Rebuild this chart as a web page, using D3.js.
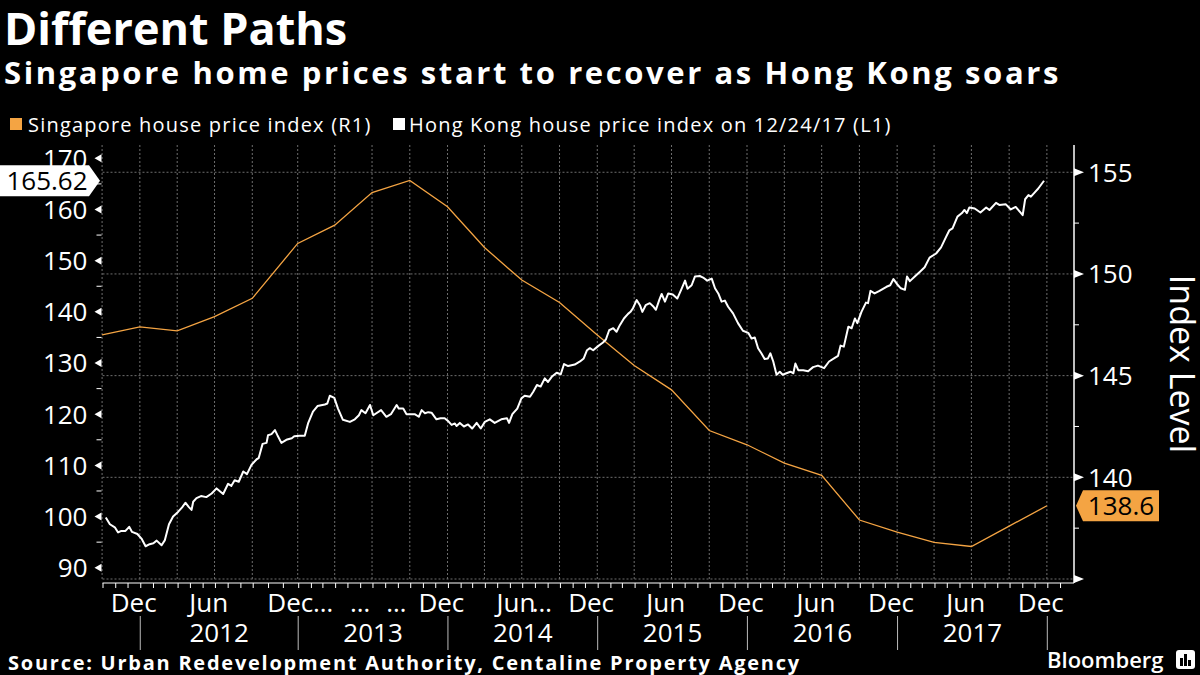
<!DOCTYPE html>
<html><head><meta charset="utf-8">
<script src="https://cdn.jsdelivr.net/npm/d3@7"></script>
<style>
body{margin:0;background:#000;}
svg{display:block;}
text{font-family:"Open Sans",sans-serif;}
</style>
</head><body>
<svg id="c" width="1200" height="675"></svg>
<script>
// ---------------- DATA ----------------
const sgDates = ["2011-09-30","2011-12-31","2012-03-31","2012-06-30","2012-09-30","2012-12-31",
  "2013-03-31","2013-06-30","2013-09-30","2013-12-31","2014-03-31","2014-06-30","2014-09-30","2014-12-31",
  "2015-03-31","2015-06-30","2015-09-30","2015-12-31","2016-03-31","2016-06-30","2016-09-30","2016-12-31",
  "2017-03-31","2017-06-30","2017-09-30","2017-12-31"];
const sgValues = [147.0,147.4,147.2,147.9,148.8,151.5,152.4,154.0,154.6,153.3,151.3,149.7,148.6,147.0,
  145.5,144.3,142.3,141.6,140.7,140.1,137.9,137.3,136.8,136.6,137.6,138.6];

const hkDates = ["2011-10-09","2011-10-19","2011-10-31","2011-11-08","2011-11-16","2011-11-26","2011-12-05","2011-12-12","2011-12-25",
"2012-01-04","2012-01-14","2012-01-24","2012-02-02","2012-02-10","2012-02-22","2012-03-01","2012-03-11","2012-03-21","2012-04-02",
"2012-04-12","2012-04-20","2012-04-28","2012-05-05","2012-05-09","2012-05-17","2012-05-28","2012-06-10","2012-06-23","2012-07-05",
"2012-07-21","2012-08-02","2012-08-10","2012-08-18","2012-08-28","2012-09-08","2012-09-17","2012-09-28","2012-10-09","2012-10-13",
"2012-10-21","2012-10-29","2012-11-01","2012-11-08","2012-11-15","2012-11-20","2012-11-28","2012-12-08","2012-12-19","2012-12-24",
"2013-01-05","2013-01-17","2013-01-25","2013-02-06","2013-02-17","2013-03-07","2013-03-13","2013-03-19","2013-03-30","2013-04-08",
"2013-04-20","2013-05-07","2013-05-19","2013-05-29","2013-06-04","2013-06-14","2013-06-25","2013-07-03","2013-07-22","2013-08-04",
"2013-08-15","2013-08-29","2013-09-03","2013-09-14","2013-09-22","2013-10-12","2013-10-22","2013-10-29","2013-11-06","2013-11-14",
"2013-11-22","2013-12-04","2013-12-14","2013-12-24","2014-01-01","2014-01-10","2014-01-18","2014-01-22","2014-01-30","2014-02-09",
"2014-02-19","2014-03-01","2014-03-12","2014-03-22","2014-04-01","2014-04-13","2014-04-25","2014-05-11","2014-05-25","2014-05-30",
"2014-06-07","2014-06-19","2014-06-29","2014-07-07","2014-07-20","2014-07-28","2014-08-06","2014-08-15","2014-08-25","2014-09-02",
"2014-09-11","2014-09-23","2014-10-03","2014-10-11","2014-10-21","2014-11-06","2014-11-19","2014-11-28","2014-12-06","2014-12-13",
"2014-12-21","2015-01-02","2015-01-14","2015-01-21","2015-01-29","2015-02-08","2015-02-16","2015-02-24","2015-03-06","2015-03-16",
"2015-03-22","2015-03-28","2015-04-06","2015-04-14","2015-04-20","2015-04-28","2015-05-08","2015-05-16","2015-05-23","2015-05-31",
"2015-06-06","2015-06-14","2015-06-22","2015-07-03","2015-07-14","2015-07-25","2015-08-02","2015-08-08","2015-08-18","2015-08-26",
"2015-09-07","2015-09-15","2015-09-25","2015-10-06","2015-10-14","2015-10-22","2015-10-30","2015-11-07","2015-11-15","2015-11-27",
"2015-12-09","2015-12-21","2016-01-03","2016-01-11","2016-01-19","2016-01-27","2016-02-04","2016-02-12","2016-02-20","2016-02-26",
"2016-03-04","2016-03-12","2016-03-20","2016-03-27","2016-04-05","2016-04-15","2016-04-22","2016-04-27","2016-05-04","2016-05-16",
"2016-05-28","2016-06-09","2016-06-21","2016-07-06","2016-07-18","2016-08-01","2016-08-09","2016-08-15","2016-08-23","2016-09-03",
"2016-09-11","2016-09-19","2016-09-25","2016-10-05","2016-10-16","2016-10-21","2016-10-27","2016-11-06","2016-11-18","2016-12-05",
"2016-12-14","2016-12-22","2016-12-31","2017-01-09","2017-01-19","2017-01-24","2017-01-31","2017-02-12","2017-02-24","2017-03-08",
"2017-03-20","2017-04-05","2017-04-17","2017-04-29","2017-05-07","2017-05-15","2017-05-27","2017-06-07","2017-06-13","2017-06-19",
"2017-06-25","2017-07-08","2017-07-22","2017-08-05","2017-08-13","2017-08-29","2017-09-06","2017-09-22","2017-10-04","2017-10-16",
"2017-11-02","2017-11-08","2017-11-16","2017-11-22","2017-12-02","2017-12-10","2017-12-24"];
const hkValues = [99.8,98.5,97.9,96.9,97.2,97.2,98.0,97.0,96.6,
95.7,94.2,94.6,94.8,95.3,94.4,95.4,98.5,100.0,100.9,
101.8,102.7,101.9,101.3,102.9,103.6,104.0,103.8,104.5,105.5,
104.4,106.4,106.0,107.1,106.8,108.8,108.3,110.1,111.2,111.4,
114.2,114.4,115.9,116.1,116.9,115.9,114.4,115.0,115.3,115.7,
115.8,115.8,118.2,120.5,121.6,121.9,122.1,123.6,123.2,121.1,
118.9,118.5,119.0,119.8,120.8,120.2,121.8,119.8,120.8,119.5,
120.0,121.8,121.1,121.1,120.0,120.0,119.5,120.8,120.2,120.4,
120.3,119.0,119.2,119.2,118.7,117.9,118.2,117.7,118.3,117.6,
118.0,117.2,118.3,117.2,118.5,119.0,118.3,119.0,119.2,118.3,
120.0,121.1,123.1,123.6,123.4,124.4,125.7,125.4,127.0,126.3,
127.3,128.1,127.8,129.8,129.4,129.7,130.3,130.9,132.5,132.9,
132.5,133.3,134.0,134.6,136.4,136.8,136.1,137.4,138.7,139.6,
140.0,140.7,142.3,141.3,140.0,141.3,141.7,141.1,140.4,142.3,
143.5,142.0,143.6,143.4,142.6,144.6,146.1,144.5,145.2,146.9,
147.0,146.7,146.1,146.5,144.6,143.6,142.0,142.2,141.0,139.7,
137.8,136.3,135.9,134.8,135.0,132.9,131.9,130.8,130.9,131.9,
130.3,127.7,128.3,127.7,128.0,128.3,128.0,129.9,128.6,128.6,
128.4,129.2,129.5,129.0,130.3,131.0,131.4,133.4,133.2,137.1,
136.8,138.7,137.8,140.0,141.8,141.7,144.1,143.6,144.1,144.9,
145.2,146.4,145.4,144.6,144.3,146.9,146.0,146.9,147.8,148.7,
150.6,151.4,152.6,154.6,155.9,156.3,158.6,159.3,159.9,159.3,
160.4,160.2,159.4,160.4,159.9,161.3,160.9,161.0,160.0,160.5,
158.9,162.0,162.8,162.5,163.4,164.1,165.62];

const leftTicks = [90,100,110,120,130,140,150,160,170];
const leftMinor = [95,105,115,125,135,145,155,165];
const rightTicks = [135,140,145,150,155];
const rightLabels = [140,145,150,155];
const rightMinor = [137.5,142.5,147.5,152.5];
const monthLabels = [["2011-12-16","Dec"],["2012-06-16","Jun"],["2012-12-16","Dec"],["2013-12-16","Dec"],
  ["2014-06-16","Jun"],["2014-12-16","Dec"],["2015-06-16","Jun"],["2015-12-16","Dec"],
  ["2016-06-16","Jun"],["2016-12-16","Dec"],["2017-06-16","Jun"],["2017-12-16","Dec"]];
const ellipsisDates = ["2013-03-03","2013-06-01","2013-08-28","2014-08-18"];
const years = [2012,2013,2014,2015,2016,2017];

const title = "Different Paths";
const subtitle = "Singapore home prices start to recover as Hong Kong soars";
const legendItems = ["Singapore house price index (R1)","Hong Kong house price index on 12/24/17 (L1)"];
const source = "Source: Urban Redevelopment Authority, Centaline Property Agency";

// ---------------- CHART ----------------
const ORANGE = "#f4a443";
const GRID = "#6e6e6e";
const parse = d3.timeParse("%Y-%m-%d");
const svg = d3.select("#c");
svg.append("rect").attr("width",1200).attr("height",675).attr("fill","#000");

const plotTop = 145, plotBottom = 579, axisY = 583;
const x = d3.scaleTime()
  .domain(["2011-10-01","2012-10-01","2013-01-01","2018-01-01","2018-03-07"].map(parse))
  .range([102.5,252.7,298.2,1047.3,1074]);
const yL = d3.scaleLinear().domain([87.8,172.6]).range([plotBottom, plotTop]);
const yR = d3.scaleLinear().domain([135,156.34]).range([plotBottom, plotTop]);
const x0 = x.range()[0];

const sg = sgDates.map((d,i)=>({d:parse(d), v:sgValues[i]}));
const hk = hkDates.map((d,i)=>({d:parse(d), v:hkValues[i]}));

// grid
const g = svg.append("g");
g.selectAll("line.vg").data(sg).join("line")
  .attr("x1",d=>x(d.d)).attr("x2",d=>x(d.d)).attr("y1",plotTop).attr("y2",plotBottom)
  .attr("stroke",GRID).attr("stroke-dasharray","2,2").attr("stroke-width",1);
g.selectAll("line.hg").data(rightTicks).join("line")
  .attr("x1",x0).attr("x2",1074).attr("y1",d=>yR(d)).attr("y2",d=>yR(d))
  .attr("stroke",GRID).attr("stroke-dasharray","2,2").attr("stroke-width",1);

// left axis
const la = svg.append("g").attr("transform",`translate(${x0},0)`)
  .call(d3.axisLeft(yL).tickValues(leftTicks).tickSize(0).tickPadding(15).tickFormat(d3.format("d")));
la.select(".domain").remove();
la.selectAll("text").attr("fill","#fff").style("font-size","26px").attr("dy","0.34em");
svg.selectAll("path.ltri").data(leftTicks).join("path")
  .attr("d",d=>`M${x0-1},${yL(d)-4}L${x0-1},${yL(d)+4}L${x0-8},${yL(d)}Z`)
  .attr("fill","#fff");
svg.selectAll("line.lmin").data(leftMinor).join("line")
  .attr("x1",x0-6).attr("x2",x0-1).attr("y1",d=>yL(d)).attr("y2",d=>yL(d))
  .attr("stroke","#fff").attr("stroke-width",1);

// right axis
const xr = 1074;
svg.append("line").attr("x1",xr).attr("x2",xr).attr("y1",plotTop).attr("y2",axisY).attr("stroke","#fff").attr("stroke-width",1.5);
const ra = svg.append("g").attr("transform",`translate(${xr},0)`)
  .call(d3.axisRight(yR).tickValues(rightLabels).tickSize(0).tickPadding(14));
ra.select(".domain").remove();
ra.selectAll("text").attr("fill","#fff").style("font-size","26px").attr("dy","0.34em");
svg.selectAll("path.rtri").data(rightTicks).join("path")
  .attr("d",d=>`M${xr},${yR(d)-4}L${xr},${yR(d)+4}L${xr+10},${yR(d)}Z`).attr("fill","#fff");
svg.selectAll("line.rmin").data(rightMinor).join("line")
  .attr("x1",xr).attr("x2",xr+5).attr("y1",d=>yR(d)).attr("y2",d=>yR(d)).attr("stroke","#fff");

// x axis
const months = d3.timeMonth.range(parse("2011-10-01"), parse("2018-03-01"));
const xa = svg.append("g").attr("transform",`translate(0,${axisY})`)
  .call(d3.axisBottom(x).tickValues(months).tickSize(5).tickFormat(""));
xa.select(".domain").attr("stroke","#fff").attr("d",`M${x0},0H${xr}`);
xa.selectAll(".tick line").attr("stroke","#fff");

svg.selectAll("text.mon").data(monthLabels).join("text")
  .attr("x",d=>x(parse(d[0]))).attr("y",612).attr("text-anchor","middle")
  .attr("fill","#fff").style("font-size","26px").text(d=>d[1]);
svg.selectAll("text.ell").data(ellipsisDates).join("text")
  .attr("x",d=>x(parse(d))).attr("y",612).attr("text-anchor","middle")
  .attr("fill","#fff").style("font-size","26px").text("…");
svg.selectAll("line.ysep").data(years.concat([2018])).join("line")
  .attr("x1",d=>x(new Date(d,0,1))).attr("x2",d=>x(new Date(d,0,1)))
  .attr("y1",616).attr("y2",650).attr("stroke","#bbb").attr("stroke-width",1);
svg.selectAll("text.yr").data(years).join("text")
  .attr("x",d=>(x(new Date(d,0,1))+x(new Date(d+1,0,1)))/2).attr("y",642).attr("text-anchor","middle")
  .attr("fill","#fff").style("font-size","26px").text(d=>d);

// lines
svg.append("path").datum(sg)
  .attr("d",d3.line().x(d=>x(d.d)).y(d=>yR(d.v)))
  .attr("fill","none").attr("stroke",ORANGE).attr("stroke-width",1.3);
svg.append("path").datum(hk)
  .attr("d",d3.line().x(d=>x(d.d)).y(d=>yL(d.v)))
  .attr("fill","none").attr("stroke","#fff").attr("stroke-width",2).attr("stroke-linejoin","round");

// last value labels
const hkLast = hk[hk.length-1];
const ly = yL(hkLast.v);
svg.append("path").attr("d",`M0,${ly-15.5}H89L100,${ly}L89,${ly+15.5}H0Z`).attr("fill","#fff");
svg.append("text").attr("x",47).attr("y",ly).attr("dy","0.35em").attr("text-anchor","middle")
  .attr("fill","#000").style("font-size","26px").text(d3.format(".2f")(hkLast.v));
const sgLast = sg[sg.length-1];
const ry = yR(sgLast.v);
svg.append("path").attr("d",`M1076,${ry}L1083,${ry-15.5}H1159V${ry+15.5}H1083Z`).attr("fill",ORANGE);
svg.append("text").attr("x",1121).attr("y",ry).attr("dy","0.35em").attr("text-anchor","middle")
  .attr("fill","#000").style("font-size","26px").text(d3.format(".1f")(sgLast.v));

// axis title
svg.append("text").attr("transform","translate(1170,364) rotate(90)").attr("text-anchor","middle")
  .attr("fill","#fff").style("font-size","34px").text("Index Level");

// titles
svg.append("text").attr("x",4).attr("y",45).attr("fill","#fff").style("font-size","45px").style("font-weight","700").text(title);
svg.append("text").attr("x",4).attr("y",84).attr("fill","#fff").style("font-size","31px").style("font-weight","700")
  .style("letter-spacing","2.6px").text(subtitle);

// legend
svg.append("rect").attr("x",10).attr("y",118).attr("width",12).attr("height",12).attr("fill",ORANGE);
svg.append("text").attr("x",28).attr("y",132).attr("fill","#fff").style("font-size","20px")
  .style("letter-spacing","1.2px").text(legendItems[0]);
svg.append("rect").attr("x",393).attr("y",118).attr("width",12).attr("height",12).attr("fill","#fff");
svg.append("text").attr("x",409).attr("y",132).attr("fill","#fff").style("font-size","20px")
  .style("letter-spacing","1.2px").text(legendItems[1]);

// footer
svg.append("text").attr("x",8).attr("y",670).attr("fill","#fff").style("font-size","20px").style("font-weight","700")
  .style("letter-spacing","1.75px").text(source);
svg.append("text").attr("x",1047).attr("y",668).attr("fill","#fff").style("font-size","22px").style("font-weight","600").text("Bloomberg");
const ic = svg.append("g").attr("transform","translate(1176,650)");
ic.append("rect").attr("width",19).attr("height",19).attr("rx",3).attr("fill","#fff");
[[4,8,3,8],[8,4,3,12],[12,10,3,6]].forEach(b=>ic.append("rect").attr("x",b[0]).attr("y",b[1]).attr("width",b[2]).attr("height",b[3]).attr("fill","#000"));
</script>
</body></html>
